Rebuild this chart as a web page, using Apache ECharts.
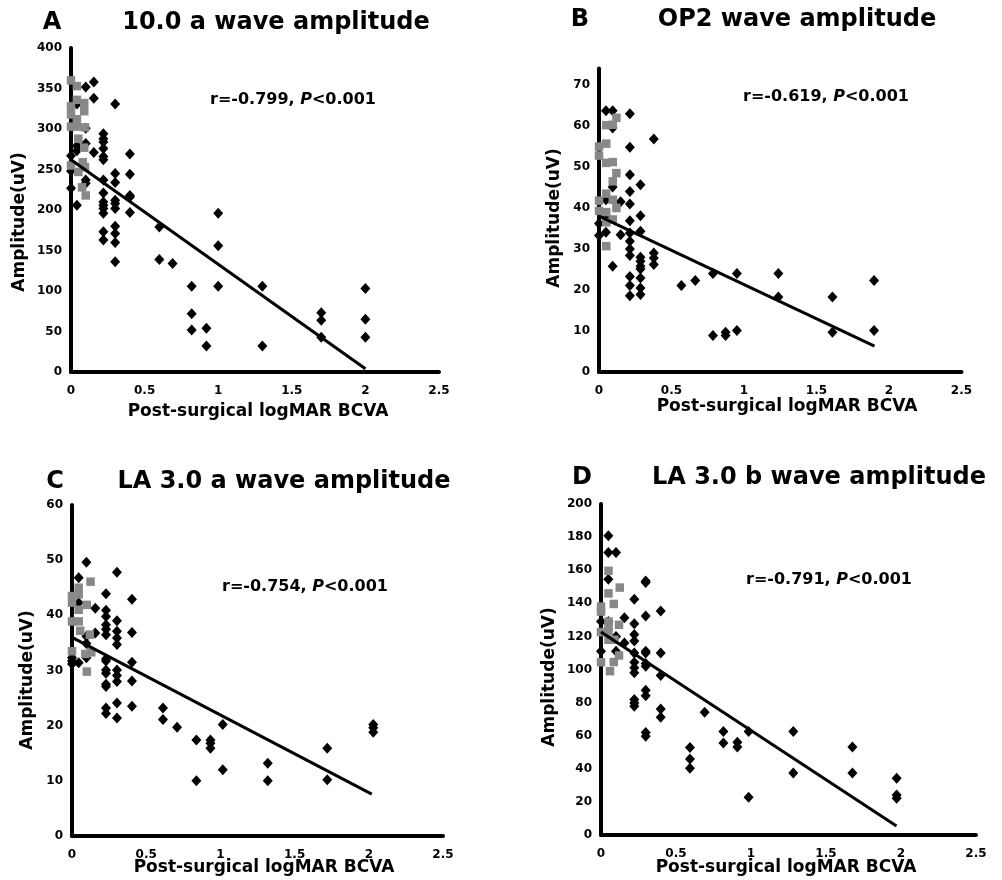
<!DOCTYPE html>
<html><head><meta charset="utf-8">
<script src="https://cdn.jsdelivr.net/npm/echarts@6/dist/echarts.min.js"></script>
<style>html,body{margin:0;padding:0;background:#fff}#c{width:1002px;height:880px}</style>
</head><body><div id="c"></div>
<script>
// ---------- Panel A: 10.0 a wave amplitude ----------
const aBlack = [[0,267],[0,248],[0,227],[0.04,331],[0.04,279],[0.04,273],[0.04,206],
  [0.1,352],[0.1,301],[0.1,282],[0.1,237],[0.1,233],[0.155,358],[0.155,338],[0.155,271],
  [0.22,294],[0.22,288],[0.22,284],[0.22,276],[0.22,266],[0.22,262],[0.22,237],[0.22,221],[0.22,210],[0.22,206],[0.22,202],[0.22,196],[0.22,173],[0.22,163],
  [0.30,331],[0.30,245],[0.30,234],[0.30,212],[0.30,208],[0.30,202],[0.30,180],[0.30,171],[0.30,160],[0.30,136],
  [0.40,269],[0.40,244],[0.40,218],[0.40,216],[0.40,197],[0.60,179],[0.60,139],[0.69,134],
  [0.82,106],[0.82,72],[0.82,52],[0.92,54],[0.92,32],[1.0,196],[1.0,156],[1.0,106],
  [1.3,106],[1.3,32],[1.70,73],[1.70,64],[1.70,43],[2.0,103],[2.0,65],[2.0,43]];
const aGray = [[0,360],[0,328],[0,318],[0,303],[0,255],[0.04,353],[0.04,336],[0.04,312],[0.04,303],
  [0.05,288],[0.05,247],[0.09,332],[0.09,322],[0.095,302],[0.09,277],[0.08,259],[0.095,253],[0.075,228],[0.1,218]];
const aFit = [[0,262],[2.0,4]];

// ---------- Panel B: OP2 wave amplitude ----------
const bBlack = [[0,36.2],[0,33.3],[0.048,63.7],[0.048,42],[0.048,38],[0.048,34.1],
  [0.094,63.7],[0.094,59.5],[0.094,45.1],[0.094,25.8],[0.149,41.5],[0.149,33.5],
  [0.213,63],[0.213,54.8],[0.213,48.1],[0.213,44],[0.213,41],[0.213,36.9],[0.213,33.9],[0.213,31.9],[0.213,30],[0.213,28.4],[0.213,23.3],[0.213,21.1],[0.213,18.6],
  [0.286,45.7],[0.286,38.1],[0.286,34.3],[0.286,28],[0.286,27],[0.286,25.8],[0.286,25.1],[0.286,22.9],[0.286,20.5],[0.286,18.9],
  [0.378,56.8],[0.378,29],[0.378,27.8],[0.378,26.2],[0.568,21.1],[0.664,22.3],
  [0.786,24],[0.786,8.9],[0.873,9.7],[0.873,8.9],[0.951,24],[0.951,10.1],
  [1.237,24],[1.237,18.3],[1.61,18.3],[1.61,9.7],[1.897,22.3],[1.897,10.1]];
const bGray = [[0,55],[0,52.8],[0,41.8],[0,39.3],[0.05,60.2],[0.05,55.7],[0.05,51],[0.05,43.5],[0.05,39],[0.05,36.5],[0.05,30.7],
  [0.095,60.3],[0.095,51.2],[0.095,46.5],[0.095,42],[0.095,37.2],[0.12,62],[0.12,48.5],[0.12,40]];
const bFit = [[0,38],[1.9,6.3]];

// ---------- Panel C: LA 3.0 a wave amplitude ----------
const cBlack = [[0,32.3],[0,31.7],[0,31.2],[0.045,46.8],[0.045,42.3],[0.045,31.4],
  [0.097,49.6],[0.097,36.2],[0.097,34.9],[0.097,32.3],[0.157,41.3],[0.157,36.8],
  [0.229,43.9],[0.229,40.9],[0.229,39.8],[0.229,38.3],[0.229,37.5],[0.229,36.5],[0.229,32.1],[0.229,31.7],[0.229,30.1],[0.229,29.5],[0.229,27.5],[0.229,27.1],[0.229,23.2],[0.229,22.2],
  [0.303,47.8],[0.303,39],[0.303,37.1],[0.303,35.9],[0.303,34.7],[0.303,30.1],[0.303,29.1],[0.303,28],[0.303,24.1],[0.303,21.4],
  [0.404,42.9],[0.404,36.9],[0.404,31.5],[0.404,28.1],[0.404,23.5],[0.613,23.2],[0.613,21.1],[0.708,19.7],
  [0.838,17.4],[0.838,10],[0.933,17.4],[0.933,16.8],[0.933,15.9],[1.016,20.2],[1.016,12],
  [1.319,13.2],[1.319,10],[1.72,15.9],[1.72,10.2],[2.03,20.2],[2.03,19.6],[2.03,18.8]];
const cGray = [[0,43.5],[0,42.3],[0,38.9],[0,33.5],[0.045,45],[0.045,43.8],[0.045,41],[0.045,38.9],[0.055,37.2],
  [0.1,41.9],[0.09,33],[0.1,29.8],[0.125,46.1],[0.12,36.5],[0.13,33.3]];
const cFit = [[0,36],[2.02,7.6]];

// ---------- Panel D: LA 3.0 b wave amplitude ----------
const dBlack = [[0,129],[0,111],[0.049,180.8],[0.049,170.7],[0.049,154.5],[0.049,129],
  [0.1,170.7],[0.1,120],[0.1,111],[0.156,131.3],[0.156,116],
  [0.222,142.4],[0.222,127.7],[0.222,121.2],[0.222,117.2],[0.222,110],[0.222,104.4],[0.222,101],[0.222,98],[0.222,81.8],[0.222,79.8],[0.222,77.8],
  [0.298,153.5],[0.298,152.5],[0.298,132.3],[0.298,111],[0.298,110],[0.298,103.6],[0.298,102],[0.298,87.5],[0.298,84.2],[0.298,62],[0.298,59.6],
  [0.398,135.4],[0.398,110],[0.398,96.4],[0.398,76.2],[0.398,71.1],
  [0.593,52.9],[0.593,45.9],[0.593,40.4],[0.691,74.1],[0.816,62.6],[0.816,55.6],[0.909,56],[0.909,53.1],
  [0.984,62.6],[0.984,22.8],[1.282,62.6],[1.282,37.4],[1.676,53.1],[1.676,37.4],[1.971,34.3],[1.971,24.2],[1.971,22.2]];
const dGray = [[0,138],[0,135],[0,122.6],[0,104.4],[0.05,159.6],[0.05,146],[0.05,129],[0.05,126],[0.05,123],[0.05,118],[0.06,99],
  [0.085,139.6],[0.09,118],[0.085,104.5],[0.125,149.5],[0.12,127],[0.12,108.5]];
const dFit = [[0,122.6],[1.97,5.5]];

const yMax = [400, 74, 60, 200];
const yInterval = [50, 10, 10, 20];
const panelLetters = ['A','B','C','D'];
const panelTitles = ['10.0 a wave amplitude','OP2 wave amplitude','LA 3.0 a wave amplitude','LA 3.0 b wave amplitude'];
const stats = [['-0.799','0.001'],['-0.619','0.001'],['-0.754','0.001'],['-0.791','0.001']];
const xName = 'Post-surgical logMAR BCVA';
const yName = 'Amplitude(uV)';

const FONT = 'DejaVu Sans';
const grids = [
  {left:71, top:48, width:368, height:324},
  {left:599, top:68.6, width:362.5, height:303.4},
  {left:72, top:505, width:371, height:331},
  {left:601, top:504, width:375, height:331}
];
const blacks = [aBlack,bBlack,cBlack,dBlack];
const grays = [aGray,bGray,cGray,dGray];
const fits = [aFit,bFit,cFit,dFit];

const labelStyle = {color:'#000', fontFamily:FONT, fontWeight:'bold', fontSize:12};
const xAxis = grids.map((g,i)=>({
  gridIndex:i, type:'value', min:0, max:2.5, interval:0.5,
  axisLine:{show:true, onZero:false, lineStyle:{color:'#000', width:4}},
  axisTick:{show:false}, splitLine:{show:false},
  axisLabel:Object.assign({margin:13}, labelStyle)
}));
const yAxis = grids.map((g,i)=>({
  gridIndex:i, type:'value', min:0, max:yMax[i], interval:yInterval[i],
  axisLine:{show:true, onZero:false, lineStyle:{color:'#000', width:4}},
  axisTick:{show:false}, splitLine:{show:false},
  axisLabel:Object.assign({margin:9, showMaxLabel: i===1 ? false : true}, labelStyle)
}));
const series = [];
for (let i=0;i<4;i++){
  series.push({type:'scatter', xAxisIndex:i, yAxisIndex:i, data:blacks[i], symbol:'diamond', symbolSize:[10,11], itemStyle:{color:'#000', opacity:1}, silent:true, z:2});
  series.push({type:'scatter', xAxisIndex:i, yAxisIndex:i, data:grays[i], symbol:'rect', symbolSize:8.5, itemStyle:{color:'#888888', opacity:1}, silent:true, z:3});
  series.push({type:'line', xAxisIndex:i, yAxisIndex:i, data:fits[i], symbol:'none', lineStyle:{color:'#000', width:3}, silent:true, z:4});
}

const letterPos = [[52,23],[580,20],[55,482],[582,478]];
const titlePos = [[276,23],[797,20],[284,482],[819,478]];
const statPos = [[293,100],[826,97],[305,587],[829,580]];
const xNamePos = [[258,412],[787,407],[264,868],[786,868]];
const yNamePos = [[20,222],[555,218],[28,680],[550,677]];

const graphic = [];
for (let i=0;i<4;i++){
  graphic.push({type:'text', x:letterPos[i][0], y:letterPos[i][1], style:{text:panelLetters[i], font:'bold 24px "'+FONT+'"', fill:'#000', align:'center', verticalAlign:'middle'}});
  graphic.push({type:'text', x:titlePos[i][0], y:titlePos[i][1], style:{text:panelTitles[i], font:'bold 24px "'+FONT+'"', fill:'#000', align:'center', verticalAlign:'middle'}});
  graphic.push({type:'text', x:statPos[i][0], y:statPos[i][1], style:{
    text:'{n|r='+stats[i][0]+', }{i|P}{n|<'+stats[i][1]+'}', align:'center', verticalAlign:'middle',
    rich:{n:{fontFamily:FONT, fontWeight:'bold', fontSize:16, fill:'#000'}, i:{fontFamily:FONT, fontWeight:'bold', fontStyle:'italic', fontSize:16, fill:'#000'}}}});
  graphic.push({type:'text', x:xNamePos[i][0], y:xNamePos[i][1], style:{text:xName, font:'bold 17px "'+FONT+'"', fill:'#000', align:'center', verticalAlign:'middle'}});
  graphic.push({type:'text', x:yNamePos[i][0], y:yNamePos[i][1], rotation:Math.PI/2, style:{text:yName, font:'bold 17px "'+FONT+'"', fill:'#000', align:'center', verticalAlign:'middle'}});
}

const chart = echarts.init(document.getElementById('c'), null, {renderer:'canvas'});
chart.setOption({backgroundColor:'#fff', animation:false, grid:grids, xAxis, yAxis, series, graphic});
</script></body></html>
